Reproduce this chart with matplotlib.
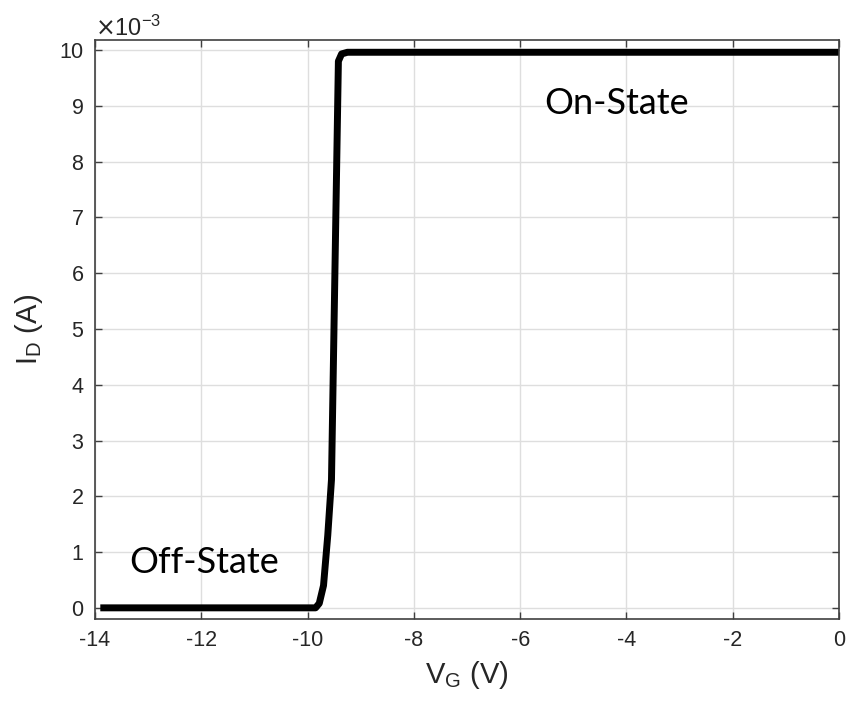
import matplotlib
matplotlib.use("Agg")
import matplotlib.pyplot as plt
from matplotlib.ticker import ScalarFormatter, MultipleLocator

# Data (V_G in volts, I_D in amperes)
vg = [-13.9, -9.85, -9.78, -9.70, -9.62, -9.55, -9.42, -9.36, -9.25, 0.0]
id_ma = [0.0, 0.0, 0.08, 0.40, 1.30, 2.30, 9.80, 9.93, 9.96, 9.96]
id_a = [v * 1e-3 for v in id_ma]

xticks = [-14, -12, -10, -8, -6, -4, -2, 0]
xlabels = ["-14", "-12", "-10", "-8", "-6", "-4", "-2", "0"]

plt.rcParams['font.family'] = ['Liberation Sans', 'DejaVu Sans']
plt.rcParams['axes.formatter.use_mathtext'] = True
plt.rcParams['axes.unicode_minus'] = False

fig = plt.figure(figsize=(8.46, 7.02), dpi=100)
ax = fig.add_axes([95/846, 1 - 619/702, (839-95)/846, (619-40)/702])

ax.plot(vg, id_a, color='black', lw=5, solid_joinstyle='round', solid_capstyle='butt')

ax.set_xlim(-14, 0)
ax.set_ylim(-0.2e-3, 10.18e-3)
ax.set_xticks(xticks)
ax.set_xticklabels(xlabels)
ax.yaxis.set_major_locator(MultipleLocator(1e-3))
fmt = ScalarFormatter(useMathText=True)
fmt.set_powerlimits((-3, -3))
ax.yaxis.set_major_formatter(fmt)

axcol = '#404040'
for s in ax.spines.values():
    s.set_color(axcol)
    s.set_linewidth(1.2)
ax.tick_params(direction='in', length=5, width=1, colors=axcol, labelcolor='#262626',
               labelsize=15.5, top=True, right=True, pad=8)
ax.grid(True, color='#dedede', lw=1)
ax.set_axisbelow(True)

ax.yaxis.get_offset_text().set_fontsize(17)
ax.yaxis.get_offset_text().set_color('#262626')

ax.set_xlabel(r'V$_\mathregular{G}$ (V)', fontsize=21, color='#262626', labelpad=6)
ax.set_ylabel(r'I$_\mathregular{D}$ (A)', fontsize=21, color='#262626', labelpad=10)

ax.text(-4.18, 9.05e-3, 'On-State', fontsize=26, family='Lato', ha='center', va='center', color='black')
ax.text(-11.95, 0.82e-3, 'Off-State', fontsize=26, family='Lato', ha='center', va='center', color='black')

fig.savefig('out.png', dpi=100, facecolor='white')
